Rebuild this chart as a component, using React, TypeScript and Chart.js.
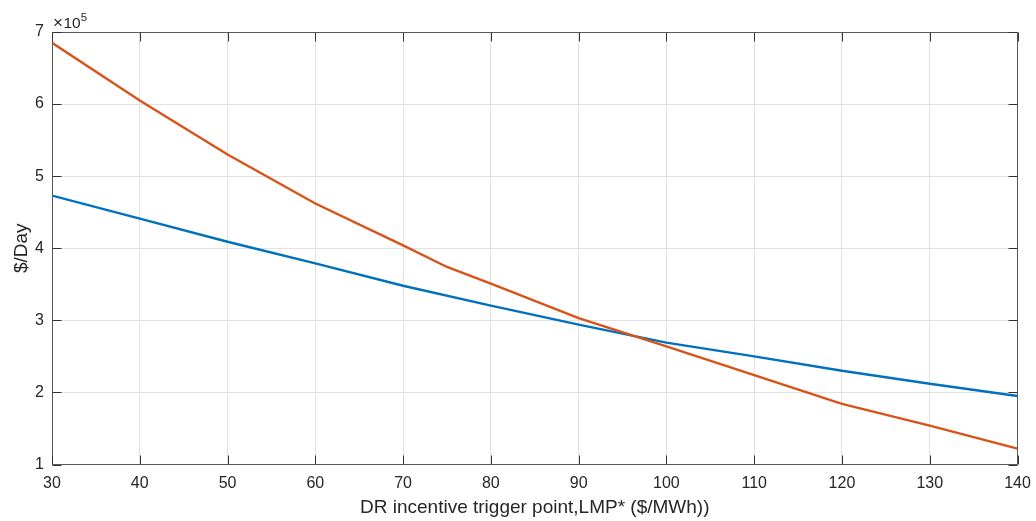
import React, { useEffect, useRef } from 'react';
import { Chart, registerables } from 'chart.js';

Chart.register(...registerables);

// ---- data (values in $/Day) ----
const blueX = [30, 40, 50, 60, 70, 80, 90, 100, 110, 120, 130, 140];
const blueValues = [473000, 441000, 409000, 379000, 348000, 320500, 294000, 269000, 250000, 230000, 212000, 195000];
const orangeX = [30, 40, 50, 60, 70, 75, 80, 90, 100, 110, 120, 130, 140];
const orangeValues = [685000, 605000, 530000, 462000, 404000, 374000, 351000, 303000, 264000, 224000, 184000, 154000, 122000];
const xTickValues = [30, 40, 50, 60, 70, 80, 90, 100, 110, 120, 130, 140];
const yTickValues = [100000, 200000, 300000, 400000, 500000, 600000, 700000];
const yExponent = 5;
const xTitle = 'DR incentive trigger point,LMP* ($/MWh))';
const yTitle = '$/Day';

const BLUE = '#0072BD';
const ORANGE = '#D95319';
const TEXT = '#262626';
const AXIS = '#595959';
const GRID = '#e2e2e2';
const FONT = '"Liberation Sans", Arial, Helvetica, sans-serif';

const boxPlugin = {
  id: 'matlabBox',
  afterDraw(chart: any) {
    const { ctx, chartArea } = chart;
    const xs = chart.scales.x;
    const ys = chart.scales.y;
    const L = Math.round(chartArea.left) + 0.5;
    const R = Math.round(chartArea.right) - 0.5;
    const T = Math.round(chartArea.top) + 0.5;
    const B = Math.round(chartArea.bottom) - 0.5;
    const tl = 9;
    ctx.save();
    ctx.strokeStyle = AXIS;
    ctx.lineWidth = 1;
    ctx.beginPath();
    ctx.rect(L, T, R - L, B - T);
    ctx.stroke();
    ctx.strokeStyle = '#333333';
    ctx.beginPath();
    xTickValues.forEach((v) => {
      const px = Math.round(xs.getPixelForValue(v)) + 0.5;
      ctx.moveTo(px, B);
      ctx.lineTo(px, B - tl);
      ctx.moveTo(px, T);
      ctx.lineTo(px, T + tl);
    });
    yTickValues.forEach((v) => {
      const py = Math.round(ys.getPixelForValue(v)) + 0.5;
      ctx.moveTo(L, py);
      ctx.lineTo(L + tl, py);
      ctx.moveTo(R, py);
      ctx.lineTo(R - tl, py);
    });
    ctx.stroke();
    // exponent label
    ctx.fillStyle = TEXT;
    ctx.textBaseline = 'alphabetic';
    ctx.textAlign = 'left';
    ctx.font = `17px ${FONT}`;
    const times = '\u00d7';
    const bx = chartArea.left + 1;
    const by = 28.3;
    ctx.fillText(times, bx, by);
    const tw = ctx.measureText(times).width;
    ctx.font = `15.5px ${FONT}`;
    ctx.fillText('10', bx + tw + 0.5, by);
    const w = ctx.measureText('10').width;
    ctx.font = `11.5px ${FONT}`;
    ctx.fillText(String(yExponent), bx + tw + 0.5 + w, by - 7.6);
    ctx.restore();
  },
};

export default function App() {
  const ref = useRef<HTMLCanvasElement | null>(null);
  useEffect(() => {
    if (!ref.current) return;
    const chart = new Chart(ref.current, {
      type: 'line',
      data: {
        datasets: [
          {
            label: 'orange',
            data: orangeX.map((x, i) => ({ x, y: orangeValues[i] })),
            borderColor: ORANGE,
            backgroundColor: ORANGE,
            borderWidth: 2.4,
            pointRadius: 0,
            tension: 0,
            order: 0,
          },
          {
            label: 'blue',
            data: blueX.map((x, i) => ({ x, y: blueValues[i] })),
            borderColor: BLUE,
            backgroundColor: BLUE,
            borderWidth: 2.4,
            pointRadius: 0,
            tension: 0,
            order: 1,
          },
        ],
      },
      options: {
        animation: false,
        responsive: false,
        layout: { padding: { left: 0, top: 32, right: 18.5, bottom: 0 } },
        plugins: { legend: { display: false }, tooltip: { enabled: false } },
        scales: {
          x: {
            type: 'linear',
            min: 30,
            max: 140,
            afterFit: (s: any) => {
              s.height = 56.5;
              s.paddingLeft = 0;
              s.paddingRight = 0;
            },
            afterBuildTicks: (s: any) => {
              s.ticks = xTickValues.map((v) => ({ value: v }));
            },
            grid: { color: GRID, lineWidth: 1, drawTicks: false },
            border: { display: false },
            ticks: {
              autoSkip: false,
              maxRotation: 0,
              padding: 9,
              color: TEXT,
              font: { family: FONT, size: 16 },
              callback: (v: any) => String(v),
            },
            title: {
              display: true,
              text: xTitle,
              color: TEXT,
              font: { family: FONT, size: 19 },
              padding: { top: 0, bottom: 1.5 },
            },
          },
          y: {
            type: 'linear',
            min: 100000,
            max: 700000,
            afterFit: (s: any) => {
              s.width = 52;
              s.paddingTop = 0;
              s.paddingBottom = 0;
            },
            afterBuildTicks: (s: any) => {
              s.ticks = yTickValues.map((v) => ({ value: v }));
            },
            grid: { color: GRID, lineWidth: 1, drawTicks: false },
            border: { display: false },
            ticks: {
              autoSkip: false,
              padding: 8,
              color: TEXT,
              font: { family: FONT, size: 16 },
              callback: (v: any) => String(Number(v) / Math.pow(10, yExponent)),
            },
            title: {
              display: true,
              text: yTitle,
              color: TEXT,
              font: { family: FONT, size: 19 },
              padding: { top: 10.5, bottom: 0 },
            },
          },
        },
      },
      plugins: [boxPlugin],
    });
    return () => chart.destroy();
  }, []);
  return (
    <div style={{ position: 'absolute', left: 0, top: 0, width: 1036, height: 521, background: '#fff' }}>
      <canvas ref={ref} width={1036} height={521} style={{ display: 'block' }} />
    </div>
  );
}
